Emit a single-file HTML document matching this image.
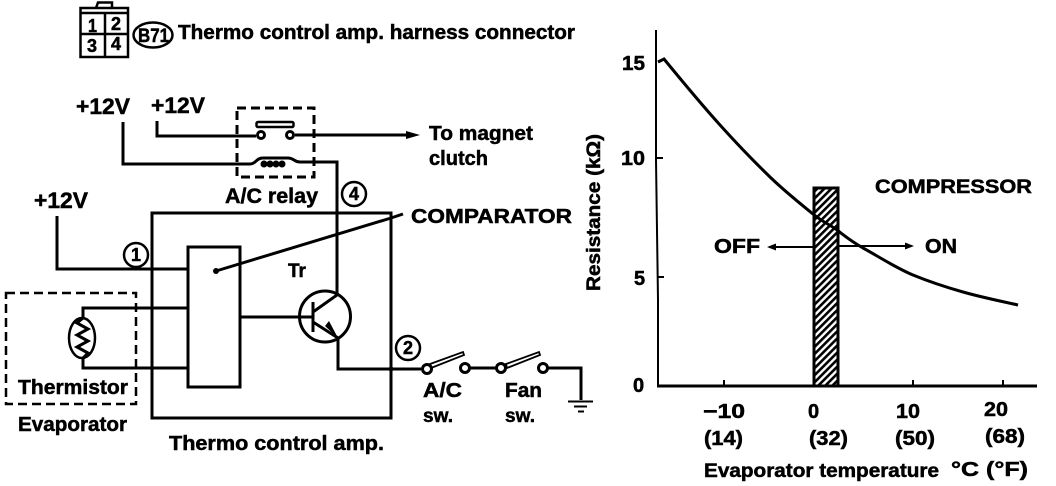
<!DOCTYPE html>
<html><head><meta charset="utf-8"><style>
html,body{margin:0;padding:0;background:#fff;width:1056px;height:486px;overflow:hidden}
svg{display:block}
text{font-family:"Liberation Sans",sans-serif;font-weight:bold;fill:#000;stroke:#000;stroke-width:.5}
.l{fill:none;stroke:#000;stroke-width:3}
.t{fill:none;stroke:#000;stroke-width:2}
.c{fill:#fff;stroke:#000;stroke-width:3}
</style></head><body>
<svg width="1056" height="486" viewBox="0 0 1056 486" xmlns="http://www.w3.org/2000/svg">
<defs><pattern id="h" width="5" height="5" patternUnits="userSpaceOnUse" patternTransform="rotate(45)"><rect width="5" height="5" fill="#fff"/><rect width="2.6" height="5" fill="#000"/></pattern></defs>

<!-- connector -->
<path class="t" style="stroke-width:2.5" d="M80.500 8H128V57H80.500ZM96 8L98 2.500H112V8M80.500 13H128M105 13V57M80.500 34H128"/>
<g font-size="18"><text x="88" y="32" textLength="9" lengthAdjust="spacingAndGlyphs">1</text><text x="111" y="30">2</text><text x="87" y="52">3</text><text x="111" y="50">4</text></g>
<ellipse cx="153" cy="35" rx="19.500" ry="12.500" class="t" style="stroke-width:2.500"/>
<text x="138" y="42" font-size="19" textLength="31" lengthAdjust="spacingAndGlyphs">B71</text>
<text x="178" y="39" font-size="20" textLength="397" lengthAdjust="spacingAndGlyphs">Thermo control amp. harness connector</text>

<!-- +12V -->
<g font-size="22">
<text x="76" y="114" textLength="54" lengthAdjust="spacingAndGlyphs">+12V</text>
<text x="151" y="113" textLength="54" lengthAdjust="spacingAndGlyphs">+12V</text>
<text x="34" y="208" textLength="54" lengthAdjust="spacingAndGlyphs">+12V</text>
</g>

<!-- relay -->
<rect x="237" y="108" width="77" height="69" fill="none" stroke="#000" stroke-width="3" stroke-dasharray="9 5"/>
<path class="l" d="M157 121V136H256M295 135H408"/>
<path d="M406 131L420 135L406 139Z" fill="#000"/>
<rect x="256.500" y="122" width="37" height="5" rx="1.500" fill="#fff" stroke="#000" stroke-width="2.500"/>
<circle cx="261" cy="135" r="3.500" class="c"/><circle cx="290" cy="135" r="3.500" class="c"/>
<path class="l" d="M123 122V164H250C256 164 256 158 263 158H288C294 158 294 162 300 162H337V300"/>
<g fill="#000"><circle cx="264" cy="164" r="3.500"/><circle cx="270" cy="164" r="3.500"/><circle cx="276" cy="164" r="3.500"/><circle cx="282" cy="164" r="3.500"/></g>
<text x="429" y="140" font-size="20" textLength="104" lengthAdjust="spacingAndGlyphs">To magnet</text>
<text x="429" y="165" font-size="20" textLength="59" lengthAdjust="spacingAndGlyphs">clutch</text>
<text x="225" y="203" font-size="21" textLength="93" lengthAdjust="spacingAndGlyphs">A/C relay</text>
<circle cx="354" cy="194" r="12" class="t" style="stroke-width:2.500"/>
<text x="349" y="200" font-size="18">4</text>

<!-- amp box -->
<path class="l" d="M152 213H391V418H152Z"/>
<path class="l" d="M57 216V269H188"/>
<circle cx="136" cy="255" r="12" fill="#fff" stroke="#000" stroke-width="2.500"/>
<text x="131" y="261" font-size="18">1</text>
<rect x="188" y="247" width="52" height="140" fill="#fff" stroke="#000" stroke-width="3"/>
<path class="l" d="M216 271L391 218L403 214"/>
<circle cx="216" cy="271" r="3" fill="#000"/>
<path class="l" d="M337 213V300"/>
<text x="411" y="223" font-size="20" textLength="161" lengthAdjust="spacingAndGlyphs">COMPARATOR</text>
<text x="288" y="277" font-size="19">Tr</text>

<!-- thermistor -->
<rect x="6" y="293" width="130" height="111" fill="none" stroke="#000" stroke-width="2.500" stroke-dasharray="9 5"/>
<path class="l" d="M188 308H83V318M83 358V368H188"/>
<ellipse cx="82" cy="338" rx="13" ry="20" class="t" style="stroke-width:2.500"/>
<path class="l" d="M83 318L77 323L88 329L77 335L88 341L77 347L88 353L83 358"/>
<text x="18" y="394" font-size="20" textLength="110" lengthAdjust="spacingAndGlyphs">Thermistor</text>
<text x="18" y="431" font-size="20" textLength="109" lengthAdjust="spacingAndGlyphs">Evaporator</text>
<text x="169" y="450" font-size="20" textLength="215" lengthAdjust="spacingAndGlyphs">Thermo control amp.</text>

<!-- transistor -->
<circle cx="325" cy="316.500" r="25.500" fill="#fff" stroke="#000" stroke-width="3"/>
<path class="l" d="M240 317H312M313 302V332M313 312L337 295V291M313 322L338 338V369H421"/>
<path d="M325 326L338 338L329 321Z" fill="#000"/>

<!-- switches -->
<circle cx="408" cy="348" r="12" class="t" style="stroke-width:2.500"/>
<text x="403" y="354" font-size="18">2</text>
<circle cx="391" cy="369" r="2.500" fill="#000"/>
<path class="l" d="M470 368H497M548 368H581V400"/>
<path d="M430 364L463 352L464 355L431 368ZM506 364L539 352L540 355L507 368Z" fill="#fff" stroke="#000" stroke-width="1.800"/>
<circle cx="427" cy="369" r="4.500" class="c"/><circle cx="465" cy="368" r="4.500" class="c"/>
<circle cx="501" cy="368" r="4.500" class="c"/><circle cx="543" cy="368" r="4.500" class="c"/>
<path class="t" d="M568 401.500H593M574 406.500H587"/><path class="t" d="M578 411.500H584"/>
<text x="423" y="397" font-size="20" textLength="39" lengthAdjust="spacingAndGlyphs">A/C</text>
<text x="505" y="397" font-size="20" textLength="37" lengthAdjust="spacingAndGlyphs">Fan</text>
<text x="423" y="422" font-size="19" textLength="30" lengthAdjust="spacingAndGlyphs">sw.</text>
<text x="505" y="422" font-size="19" textLength="30" lengthAdjust="spacingAndGlyphs">sw.</text>

<!-- graph -->
<path class="t" d="M656 30V160L658 300V386"/>
<rect x="814" y="188" width="24" height="198" fill="url(#h)" stroke="#000" stroke-width="3"/>
<path class="l" d="M657 386H1037"/>
<path class="t" d="M657 158H663M658 277H664M724 386V380M913 386V380M1003 386V380"/>
<path d="M658 62L664 59C673 70 702 105 720 125C738 145 754.500 162 770 177C785.500 192 802 205 813 214C824 223 829 224 837 230C845 236 850 240.500 863 248C876 255 896 268 913 275C930 282 945.500 287 963 292C980.500 297 1000 301 1018 305" fill="none" stroke="#000" stroke-width="3"/>
<path class="t" d="M772 247H813M838 246H908"/>
<path d="M767 247L776 243.500V250.500ZM914 246L905 242.500V249.500Z" fill="#000"/>
<text x="714" y="253" font-size="20" textLength="46" lengthAdjust="spacingAndGlyphs">OFF</text>
<text x="925" y="253" font-size="20" textLength="32" lengthAdjust="spacingAndGlyphs">ON</text>
<text x="875" y="193" font-size="19" textLength="157" lengthAdjust="spacingAndGlyphs">COMPRESSOR</text>

<g font-size="20">
<text x="622" y="70" textLength="23" lengthAdjust="spacingAndGlyphs">15</text>
<text x="621" y="165" textLength="24" lengthAdjust="spacingAndGlyphs">10</text>
<text x="634" y="285">5</text>
<text x="633" y="392">0</text>
<text x="703" y="418" textLength="42" lengthAdjust="spacingAndGlyphs">−10</text>
<text x="808" y="418">0</text>
<text x="896" y="418" textLength="24" lengthAdjust="spacingAndGlyphs">10</text>
<text x="984" y="416" textLength="24" lengthAdjust="spacingAndGlyphs">20</text>
<text x="704" y="445" textLength="39" lengthAdjust="spacingAndGlyphs">(14)</text>
<text x="809" y="445" textLength="39" lengthAdjust="spacingAndGlyphs">(32)</text>
<text x="895" y="445" textLength="40" lengthAdjust="spacingAndGlyphs">(50)</text>
<text x="985" y="443" textLength="40" lengthAdjust="spacingAndGlyphs">(68)</text>
<text x="704" y="477" font-size="19" textLength="235" lengthAdjust="spacingAndGlyphs">Evaporator temperature</text>
<text x="951" y="476" textLength="77" lengthAdjust="spacingAndGlyphs">°C (°F)</text>
<text transform="translate(600 291) rotate(-90)" font-size="19" textLength="157" lengthAdjust="spacingAndGlyphs">Resistance (kΩ)</text>
</g>
</svg>
</body></html>
